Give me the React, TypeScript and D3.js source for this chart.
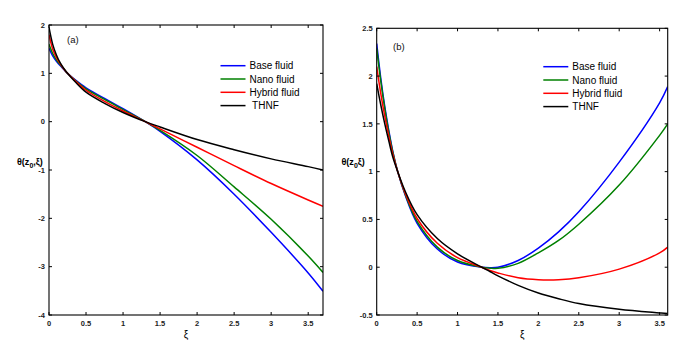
import React from "react";
import * as d3 from "d3";

// ---------- Panel (a) data ----------
const xiA = [0, 0.05, 0.1, 0.15, 0.2, 0.25, 0.35, 0.5, 0.75, 1.0, 1.3, 1.5, 2.0, 2.5, 3.0, 3.5, 3.7];
const baseA = [1.52, 1.36, 1.25, 1.16, 1.08, 1.0, 0.87, 0.7, 0.48, 0.27, 0, -0.2, -0.79, -1.5, -2.29, -3.13, -3.51];
const nanoA = [1.6, 1.41, 1.28, 1.18, 1.09, 1.0, 0.86, 0.68, 0.46, 0.25, 0, -0.18, -0.7, -1.35, -2.02, -2.78, -3.12];
const hybridA = [1.8, 1.5, 1.33, 1.2, 1.09, 1.0, 0.85, 0.65, 0.42, 0.22, 0, -0.15, -0.53, -0.91, -1.28, -1.62, -1.75];
const thnfA = [1.95, 1.6, 1.38, 1.22, 1.1, 1.0, 0.83, 0.61, 0.38, 0.19, 0, -0.11, -0.37, -0.58, -0.77, -0.93, -1.0];
const yTicksA = [2, 1, 0, -1, -2, -3, -4];
const xTicksA = [0, 0.5, 1, 1.5, 2, 2.5, 3, 3.5];

// ---------- Panel (b) data ----------
const xiB = [0, 0.05, 0.1, 0.15, 0.2, 0.26, 0.35, 0.5, 0.75, 1.0, 1.3, 1.4, 1.5, 1.75, 2.0, 2.25, 2.5, 3.0, 3.5, 3.6];
const baseB = [2.34, 1.98, 1.68, 1.43, 1.21, 1.0, 0.76, 0.46, 0.19, 0.055, 0, -0.005, 0.0, 0.07, 0.2, 0.37, 0.58, 1.1, 1.72, 1.89];
const nanoB = [2.29, 1.95, 1.66, 1.41, 1.2, 1.0, 0.77, 0.48, 0.21, 0.07, 0, -0.01, -0.012, 0.04, 0.15, 0.28, 0.45, 0.86, 1.38, 1.5];
const hybridB = [2.1, 1.82, 1.58, 1.37, 1.18, 1.0, 0.78, 0.51, 0.25, 0.1, 0, -0.035, -0.06, -0.11, -0.13, -0.13, -0.11, -0.02, 0.15, 0.21];
const thnfB = [1.92, 1.7, 1.5, 1.32, 1.15, 1.0, 0.8, 0.55, 0.3, 0.14, 0, -0.045, -0.09, -0.19, -0.27, -0.33, -0.38, -0.44, -0.478, -0.485];
const yTicksB = [2.5, 2, 1.5, 1, 0.5, 0, -0.5];
const xTicksB = [0, 0.5, 1, 1.5, 2, 2.5, 3, 3.5];

const seriesNames = ["Base fluid", "Nano fluid", "Hybrid fluid", "THNF"];
const seriesColors = ["#0000ff", "#008000", "#ff0000", "#000000"];

type PanelProps = {
  xs: number[];
  ys: number[][];
  xDomain: [number, number];
  yDomain: [number, number];
  box: { l: number; r: number; t: number; b: number };
  xTicks: number[];
  yTicks: number[];
  tag: string;
  tagPos: [number, number];
  yLabelSep: string;
  yLabelX: number;
  legendX: number;
  legendY: number;
  legendNames: string[];
};

const FONT = "Arial, 'Liberation Sans', Helvetica, sans-serif";

function Panel(p: PanelProps) {
  const x = d3.scaleLinear().domain(p.xDomain).range([p.box.l, p.box.r]);
  const y = d3.scaleLinear().domain(p.yDomain).range([p.box.b, p.box.t]);
  const line = d3
    .line<number>()
    .x((_, i) => x(p.xs[i]))
    .y((d) => y(d))
    .curve(d3.curveCatmullRom.alpha(0.5));
  const tl = 3;
  const clipId = "clip" + p.tag.replace(/[()]/g, "");
  return (
    <g>
      <defs>
        <clipPath id={clipId}>
          <rect x={p.box.l} y={p.box.t - 2} width={p.box.r - p.box.l} height={p.box.b - p.box.t + 4} />
        </clipPath>
      </defs>
      <g clipPath={`url(#${clipId})`}>
        {p.ys.map((s, i) => (
          <path key={i} d={line(s) || ""} fill="none" stroke={seriesColors[i]} strokeWidth={1.5} />
        ))}
      </g>
      {/* frame */}
      <rect x={p.box.l} y={p.box.t} width={p.box.r - p.box.l} height={p.box.b - p.box.t} fill="none" stroke="#000" strokeWidth={1.1} />
      {p.xTicks.map((t) => (
        <g key={"xt" + t}>
          <line x1={x(t)} x2={x(t)} y1={p.box.b} y2={p.box.b - tl} stroke="#000" />
          <line x1={x(t)} x2={x(t)} y1={p.box.t} y2={p.box.t + tl} stroke="#000" />
          <text x={x(t)} y={p.box.b + 11} fontSize={7.5} fontWeight="bold" fontFamily={FONT} textAnchor="middle" fill="#222">
            {String(t)}
          </text>
        </g>
      ))}
      {p.yTicks.map((t) => (
        <g key={"yt" + t}>
          <line x1={p.box.l} x2={p.box.l + tl} y1={y(t)} y2={y(t)} stroke="#000" />
          <line x1={p.box.r} x2={p.box.r - tl} y1={y(t)} y2={y(t)} stroke="#000" />
          <text x={p.box.l - 4} y={y(t) + 2.7} fontSize={7.5} fontWeight="bold" fontFamily={FONT} textAnchor="end" fill="#222">
            {String(t)}
          </text>
        </g>
      ))}
      <text x={p.tagPos[0]} y={p.tagPos[1]} fontSize={9.5} fontFamily={FONT} fill="#111">
        {p.tag}
      </text>
      {/* axis labels */}
      <text x={(p.box.l + p.box.r) / 2} y={p.box.b + 23} fontSize={10} fontFamily={FONT} textAnchor="middle">
        ξ
      </text>
      <text x={p.yLabelX} y={165} fontSize={9} fontWeight="bold" fontFamily={FONT}>
        θ(z
        <tspan fontSize={7} dy={3}>0</tspan>
        <tspan dy={-3}>{p.yLabelSep}ξ)</tspan>
      </text>
      {/* legend */}
      {p.legendNames.map((n, i) => (
        <g key={n}>
          <line
            x1={p.legendX}
            x2={p.legendX + 25}
            y1={p.legendY + i * 13.3}
            y2={p.legendY + i * 13.3}
            stroke={seriesColors[i]}
            strokeWidth={1.5}
          />
          <text x={p.legendX + 29} y={p.legendY + i * 13.3 + 3.5} fontSize={10} fontFamily={FONT} style={{ whiteSpace: "pre" }}>
            {n}
          </text>
        </g>
      ))}
    </g>
  );
}

export default function App() {
  return (
    <svg width={691} height={348} style={{ position: "absolute", left: 0, top: 0, background: "#fff" }}>
      <rect width={691} height={348} fill="#fff" />
      <Panel
        xs={xiA}
        ys={[baseA, nanoA, hybridA, thnfA]}
        xDomain={[0, 3.7]}
        yDomain={[-4, 2]}
        box={{ l: 49, r: 323, t: 25, b: 315 }}
        xTicks={xTicksA}
        yTicks={yTicksA}
        tag="(a)"
        tagPos={[67, 43]}
        yLabelSep=","
        yLabelX={17}
        legendX={220.5}
        legendY={65.7}
        legendNames={[seriesNames[0], seriesNames[1], seriesNames[2], " " + seriesNames[3]]}
      />
      <Panel
        xs={xiB}
        ys={[baseB, nanoB, hybridB, thnfB]}
        xDomain={[0, 3.6]}
        yDomain={[-0.5, 2.5]}
        box={{ l: 376.7, r: 667.7, t: 28.3, b: 315 }}
        xTicks={xTicksB}
        yTicks={yTicksB}
        tag="(b)"
        tagPos={[393, 50]}
        yLabelSep=""
        yLabelX={341.5}
        legendX={543.3}
        legendY={66.7}
        legendNames={seriesNames}
      />
    </svg>
  );
}
